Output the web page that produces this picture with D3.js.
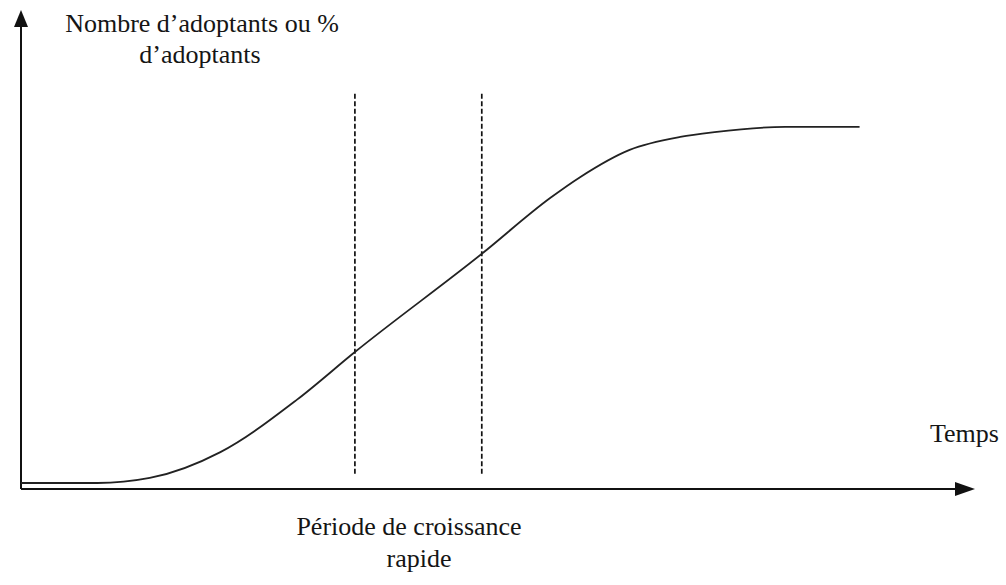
<!DOCTYPE html>
<html>
<head>
<meta charset="utf-8">
<script src="https://cdn.jsdelivr.net/npm/d3@7"></script>
<style>
  body { margin: 0; background: #fff; }
  text { font-family: "Liberation Serif", "Times New Roman", serif; fill: #151515; }
</style>
</head>
<body>
<svg id="chart" width="1006" height="585"></svg>
<script>
// diffusion curve (time and adopters in 0-100 units)
var time      = [0, 8, 13.5, 20.9, 28.9, 35.0, 48.3, 55.5, 58.6, 63.8, 69.1, 72.7, 80.1, 87.9];
var adopters  = [1.25, 1.25, 2.3, 7.7, 18.6, 28.6, 49.1, 60.8, 65.1, 70.8, 73.5, 74.5, 75.6, 75.6];

// bounds of the rapid growth period
var growthBounds = [35.0, 48.3];
var growthTop = 82.5, growthBottom = 3.1;

var yLabel = ["Nombre d\u2019adoptants ou %", "d\u2019adoptants"];
var xLabel = "Temps";
var periodLabel = ["P\u00e9riode de croissance", "rapide"];

var svg = d3.select("#chart");

var x = d3.scaleLinear().domain([0, 100]).range([21, 975]);
var y = d3.scaleLinear().domain([0, 100]).range([489, 10]);

var axes = svg.append("g").attr("id", "axes");

// y axis with arrow
axes.append("line")
  .attr("x1", x(0)).attr("x2", x(0))
  .attr("y1", y(0)).attr("y2", y(100) + 12)
  .attr("stroke", "#111").attr("stroke-width", 2);
axes.append("path")
  .attr("d", "M" + x(0) + "," + y(100) + "L" + (x(0) - 7) + "," + (y(100) + 17) + "L" + (x(0) + 7) + "," + (y(100) + 17) + "Z")
  .attr("fill", "#111");

// x axis with arrow
axes.append("line")
  .attr("x1", x(0)).attr("x2", x(100) - 12)
  .attr("y1", y(0)).attr("y2", y(0))
  .attr("stroke", "#111").attr("stroke-width", 2);
axes.append("path")
  .attr("d", "M" + x(100) + "," + y(0) + "L" + (x(100) - 20) + "," + (y(0) - 7) + "L" + (x(100) - 20) + "," + (y(0) + 7) + "Z")
  .attr("fill", "#111");

// dashed bounds
svg.selectAll("line.bound")
  .data(growthBounds)
  .enter()
  .append("line")
  .attr("class", "bound")
  .attr("x1", d => x(d)).attr("x2", d => x(d))
  .attr("y1", y(growthTop)).attr("y2", y(growthBottom))
  .attr("stroke", "#111")
  .attr("stroke-width", 1.7)
  .attr("stroke-dasharray", "5,2.5");

// the S-curve
var points = time.map((t, i) => [t, adopters[i]]);
var line = d3.line()
  .x(d => x(d[0]))
  .y(d => y(d[1]))
  .curve(d3.curveMonotoneX);

svg.append("path")
  .datum(points)
  .attr("fill", "none")
  .attr("stroke", "#222")
  .attr("stroke-width", 1.8)
  .attr("d", line);

// labels
svg.append("text")
  .attr("x", 202).attr("y", 32)
  .attr("text-anchor", "middle")
  .style("font-size", "26px")
  .text(yLabel[0]);
svg.append("text")
  .attr("x", 200).attr("y", 63)
  .attr("text-anchor", "middle")
  .style("font-size", "26px")
  .text(yLabel[1]);

svg.append("text")
  .attr("x", 930).attr("y", 442)
  .style("font-size", "26px")
  .text(xLabel);

svg.append("text")
  .attr("x", 409).attr("y", 535)
  .attr("text-anchor", "middle")
  .style("font-size", "26px")
  .text(periodLabel[0]);
svg.append("text")
  .attr("x", 419).attr("y", 567)
  .attr("text-anchor", "middle")
  .style("font-size", "26px")
  .text(periodLabel[1]);
</script>
</body>
</html>
